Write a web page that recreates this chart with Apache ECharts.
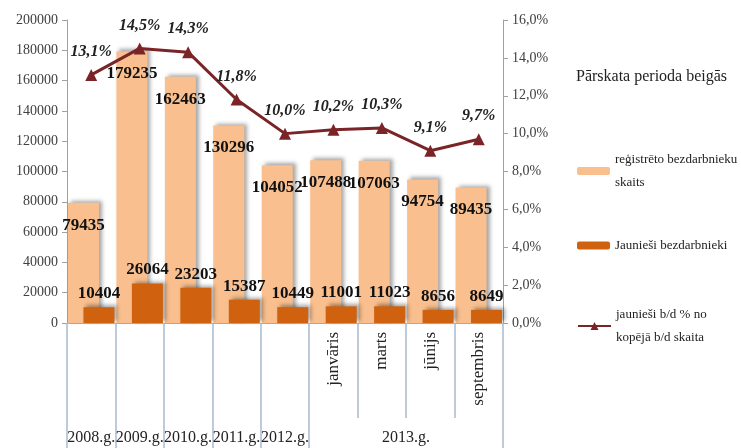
<!DOCTYPE html>
<html>
<head>
<meta charset="utf-8">
<script src="https://cdn.jsdelivr.net/npm/echarts@6/dist/echarts.min.js"></script>
<style>
  html, body { margin: 0; padding: 0; background: #fff; }
  #chart { width: 741px; height: 448px; }
</style>
</head>
<body>
<div id="chart"></div>
<script>
// kategorijas (apakšējā rinda - gadi, 2013. gadam mēneši)
const monthLabels = ['', '', '', '', '', 'janvāris', 'marts', 'jūnijs', 'septembris'];
const yearLabels = ['2008.g.', '2009.g.', '2010.g.', '2011.g.', '2012.g.', '2013.g.'];
const yearLabelPos = [0.5, 1.5, 2.5, 3.5, 4.5, 7];
const yearBounds = [0, 1, 2, 3, 4, 5, 9];

const registered = [79435, 179235, 162463, 130296, 104052, 107488, 107063, 94754, 89435]; // reģistrēto bezdarbnieku skaits
const youth = [10404, 26064, 23203, 15387, 10449, 11001, 11023, 8656, 8649]; // jaunieši bezdarbnieki
const youthShare = [13.1, 14.5, 14.3, 11.8, 10.0, 10.2, 10.3, 9.1, 9.7]; // %

const SERIF = '"Liberation Serif", "DejaVu Serif", serif';
const pct = (v) => v.toFixed(1).replace('.', ',') + '%';

var myChart = echarts.init(document.getElementById('chart'));
var option;

option = {
  animation: false,
  textStyle: { fontFamily: SERIF },
  title: {
    text: 'Pārskata perioda beigās',
    left: 571,
    top: 64,
    textStyle: { fontFamily: SERIF, fontSize: 16, fontWeight: 'normal', color: '#222' }
  },
  legend: [
    {
      data: ['reģistrēto bezdarbnieku\nskaits'],
      left: 572, top: 143, orient: 'vertical',
      itemWidth: 33, itemHeight: 8,
      textStyle: { fontFamily: SERIF, fontSize: 13, lineHeight: 23, color: '#222' }
    },
    {
      data: ['Jaunieši bezdarbnieki'],
      left: 572, top: 229, orient: 'vertical',
      itemWidth: 33, itemHeight: 8,
      textStyle: { fontFamily: SERIF, fontSize: 13, lineHeight: 23, color: '#222' }
    },
    {
      data: ['jaunieši b/d % no\nkopējā b/d skaita'],
      left: 572, top: 298, orient: 'vertical',
      itemWidth: 33, itemHeight: 10,
      textStyle: { fontFamily: SERIF, fontSize: 13, lineHeight: 23, color: '#222' }
    }
  ],
  grid: { left: 67, right: 238, top: 20, bottom: 125, containLabel: false },
  xAxis: [
    {
      type: 'category',
      data: monthLabels,
      boundaryGap: true,
      axisLine: { show: true, lineStyle: { color: '#9fb4cc', width: 1 } },
      axisTick: { show: true, length: 95, lineStyle: { color: '#a9bad0', width: 1.5 } },
      axisLabel: { rotate: 90, margin: 9, fontFamily: SERIF, fontSize: 17, color: '#222', interval: 0 }
    },
    {
      type: 'value',
      min: 0,
      max: 9,
      position: 'bottom',
      axisLine: { show: false },
      splitLine: { show: false },
      axisTick: { show: true, length: 125, customValues: yearBounds, lineStyle: { color: '#a9bad0', width: 1.5 } },
      axisLabel: {
        customValues: yearLabelPos,
        margin: 107,
        fontFamily: SERIF, fontSize: 16, color: '#222',
        formatter: (v) => yearLabels[yearLabelPos.indexOf(v)]
      }
    }
  ],
  yAxis: [
    {
      type: 'value',
      min: 0, max: 200000, interval: 20000,
      axisLine: { show: true, lineStyle: { color: '#a0a0a0' } },
      axisTick: { show: true, length: 5, lineStyle: { color: '#a0a0a0' } },
      splitLine: { show: false },
      axisLabel: { fontFamily: SERIF, fontSize: 14, color: '#404040', margin: 9, formatter: (v) => String(v) }
    },
    {
      type: 'value',
      min: 0, max: 16, interval: 2,
      position: 'right',
      axisLine: { show: true, lineStyle: { color: '#a0a0a0' } },
      axisTick: { show: true, length: 5, lineStyle: { color: '#a0a0a0' } },
      splitLine: { show: false },
      axisLabel: { fontFamily: SERIF, fontSize: 14, color: '#404040', margin: 9, formatter: pct }
    }
  ],
  series: [
    {
      name: 'reģistrēto bezdarbnieku\nskaits',
      type: 'bar',
      data: registered,
      barWidth: 31,
      barGap: '-50%',
      itemStyle: {
        color: '#f9bf8e',
        shadowColor: 'rgba(0,0,0,0.35)', shadowBlur: 4, shadowOffsetX: 3, shadowOffsetY: -2
      },
      label: {
        show: true, position: 'insideTop', distance: 14,
        fontFamily: SERIF, fontSize: 17, fontWeight: 'bold', color: '#111'
      }
    },
    {
      name: 'Jaunieši bezdarbnieki',
      type: 'bar',
      data: youth,
      barWidth: 31,
      barGap: '-50%',
      itemStyle: {
        color: '#d0620f',
        shadowColor: 'rgba(0,0,0,0.35)', shadowBlur: 4, shadowOffsetX: 3, shadowOffsetY: -2
      },
      label: {
        show: true, position: 'top', distance: 5,
        fontFamily: SERIF, fontSize: 17, fontWeight: 'bold', color: '#111'
      }
    },
    {
      name: 'jaunieši b/d % no\nkopējā b/d skaita',
      type: 'line',
      yAxisIndex: 1,
      data: youthShare,
      symbol: 'triangle',
      symbolSize: 12,
      lineStyle: { color: '#7b2428', width: 3 },
      itemStyle: { color: '#7b2428' },
      label: {
        show: true, position: 'top', distance: 9,
        fontFamily: SERIF, fontSize: 16, fontWeight: 'bold', fontStyle: 'italic', color: '#222',
        formatter: (p) => pct(p.value)
      },
      z: 5
    }
  ]
};

option && myChart.setOption(option);
</script>
</body>
</html>
